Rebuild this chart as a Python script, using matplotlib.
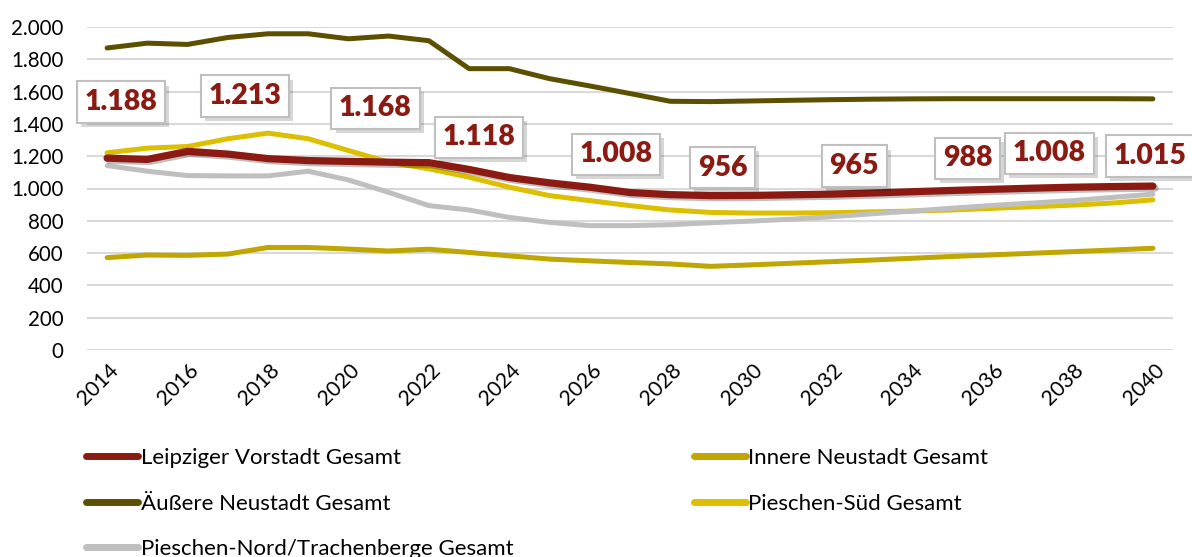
import matplotlib
matplotlib.use("Agg")
import matplotlib.pyplot as plt
import matplotlib.patheffects as pe
import matplotlib.transforms as mtransforms
from matplotlib.ticker import FuncFormatter

# ---------------- data ----------------
years = list(range(2014, 2041))
leipziger = [1188, 1180, 1230, 1213, 1185, 1173, 1168, 1163, 1160,
             1118, 1068, 1035, 1008, 975, 962, 956, 957, 961,
             965, 972, 980, 988, 995, 1002, 1008, 1012, 1015]
innere = [572, 588, 586, 594, 635, 635, 625, 613, 624,
          604, 583, 563, 552, 542, 533, 518, 527, 537,
          547, 557, 568, 579, 589, 599, 609, 619, 630]
aeussere = [1870, 1900, 1892, 1935, 1958, 1958, 1927, 1944, 1915,
            1742, 1742, 1680, 1635, 1588, 1540, 1538, 1542, 1546,
            1550, 1553, 1555, 1556, 1556, 1556, 1556, 1556, 1555]
pieschen_sued = [1221, 1250, 1260, 1308, 1343, 1308, 1235, 1163, 1122,
                 1070, 1008, 956, 925, 894, 867, 852, 848, 848,
                 850, 855, 860, 867, 877, 887, 897, 910, 930]
pieschen_nord = [1142, 1107, 1080, 1078, 1078, 1107, 1053, 976, 894,
                 867, 821, 790, 770, 770, 776, 788, 798, 810,
                 825, 843, 860, 878, 895, 910, 925, 945, 965]

series_names = ["Leipziger Vorstadt Gesamt", "Innere Neustadt Gesamt",
                "Äußere Neustadt Gesamt", "Pieschen-Süd Gesamt",
                "Pieschen-Nord/Trachenberge Gesamt"]
label_years = [2014, 2017, 2020, 2023, 2026, 2029, 2032, 2035, 2038, 2040]
xtick_years = list(range(2014, 2041, 2))
yticks = list(range(0, 2001, 200))

# label offsets (pixels) from data point
label_offsets = [(14, 56), (17, 58), (27, 53), (10, 32), (26, 33),
                 (12, 28), (23, 28), (16, 32), (-23, 34), (-3, 30)]

# ---------------- style ----------------
plt.rcParams['font.family'] = ['Lato', 'DejaVu Sans']
c_red = "#8B1A12"
c_olive = "#5C5000"
c_innere = "#BFA600"
c_sued = "#DCBF00"
c_grey = "#BFBFBF"

fig = plt.figure(figsize=(11.92, 5.57), dpi=100)
ax = fig.add_axes([87/1192, (557-350)/557, 1086/1192, 323/557])

ax.set_xlim(2013.5, 2040.5)
ax.set_ylim(0, 2000)
ax.set_yticks(yticks)
ax.set_xticks(xtick_years)
ax.yaxis.set_major_formatter(FuncFormatter(lambda v, p: f"{int(v):,}".replace(",", ".")))
ax.grid(axis='y', color="#D9D9D9", linewidth=1.5)
ax.set_axisbelow(True)
for s in ax.spines.values():
    s.set_visible(False)
ax.tick_params(axis='y', length=0, labelsize=14.8, colors="black", pad=17)
ax.tick_params(axis='x', length=0, labelsize=15.2, colors="black", pad=6)
xoff = mtransforms.ScaledTranslation(6/72, -6/72, fig.dpi_scale_trans)
for lbl in ax.get_xticklabels():
    lbl.set_rotation(45)
    lbl.set_ha('right')
    lbl.set_rotation_mode('anchor')
    lbl.set_va('center')
    lbl.set_transform(lbl.get_transform() + xoff)

lines = {}
lines[0], = ax.plot(years, leipziger, color=c_red, lw=5.2, solid_capstyle='round',
                    solid_joinstyle='round', zorder=3,
                    path_effects=[pe.SimpleLineShadow(offset=(1.5, -1.5), shadow_color='black', alpha=0.25),
                                  pe.Normal()])
lines[1], = ax.plot(years, innere, color=c_innere, lw=3.6, solid_capstyle='round', solid_joinstyle='round', zorder=2)
lines[2], = ax.plot(years, aeussere, color=c_olive, lw=3.6, solid_capstyle='round', solid_joinstyle='round', zorder=2)
lines[3], = ax.plot(years, pieschen_sued, color=c_sued, lw=3.6, solid_capstyle='round', solid_joinstyle='round', zorder=2)
lines[4], = ax.plot(years, pieschen_nord, color=c_grey, lw=3.6, solid_capstyle='round', solid_joinstyle='round', zorder=2)

# data labels for Leipziger Vorstadt
for yr, (dx, dy) in zip(label_years, label_offsets):
    v = leipziger[years.index(yr)]
    txt = f"{v:,}".replace(",", ".")
    ann = ax.annotate(txt, xy=(yr, v), xytext=(dx, dy), textcoords='offset pixels',
                      ha='center', va='center', fontsize=20.5, fontweight='heavy', color=c_red,
                      annotation_clip=False, zorder=6,
                      bbox=dict(boxstyle='square,pad=0.27', fc='white', ec='#BFBFBF', lw=1.5))
    ann.get_bbox_patch().set_path_effects([
        pe.withSimplePatchShadow(offset=(3, -3), shadow_rgbFace='black', alpha=0.16)])
    ann.set_clip_on(False)

# legend
order = [0, 2, 4, 1, 3]
leg = fig.legend([lines[i] for i in order], [series_names[i] for i in order],
                 loc='upper left', bbox_to_anchor=(86/1192, (557-448)/557),
                 ncol=2, frameon=False, fontsize=16, handlelength=2.34,
                 handletextpad=0.13, columnspacing=8.1, labelspacing=1.15,
                 borderpad=0, borderaxespad=0)
for h in leg.legend_handles:
    h.set_linewidth(5)
    h.set_path_effects([])

fig.savefig("out.png", dpi=100)
